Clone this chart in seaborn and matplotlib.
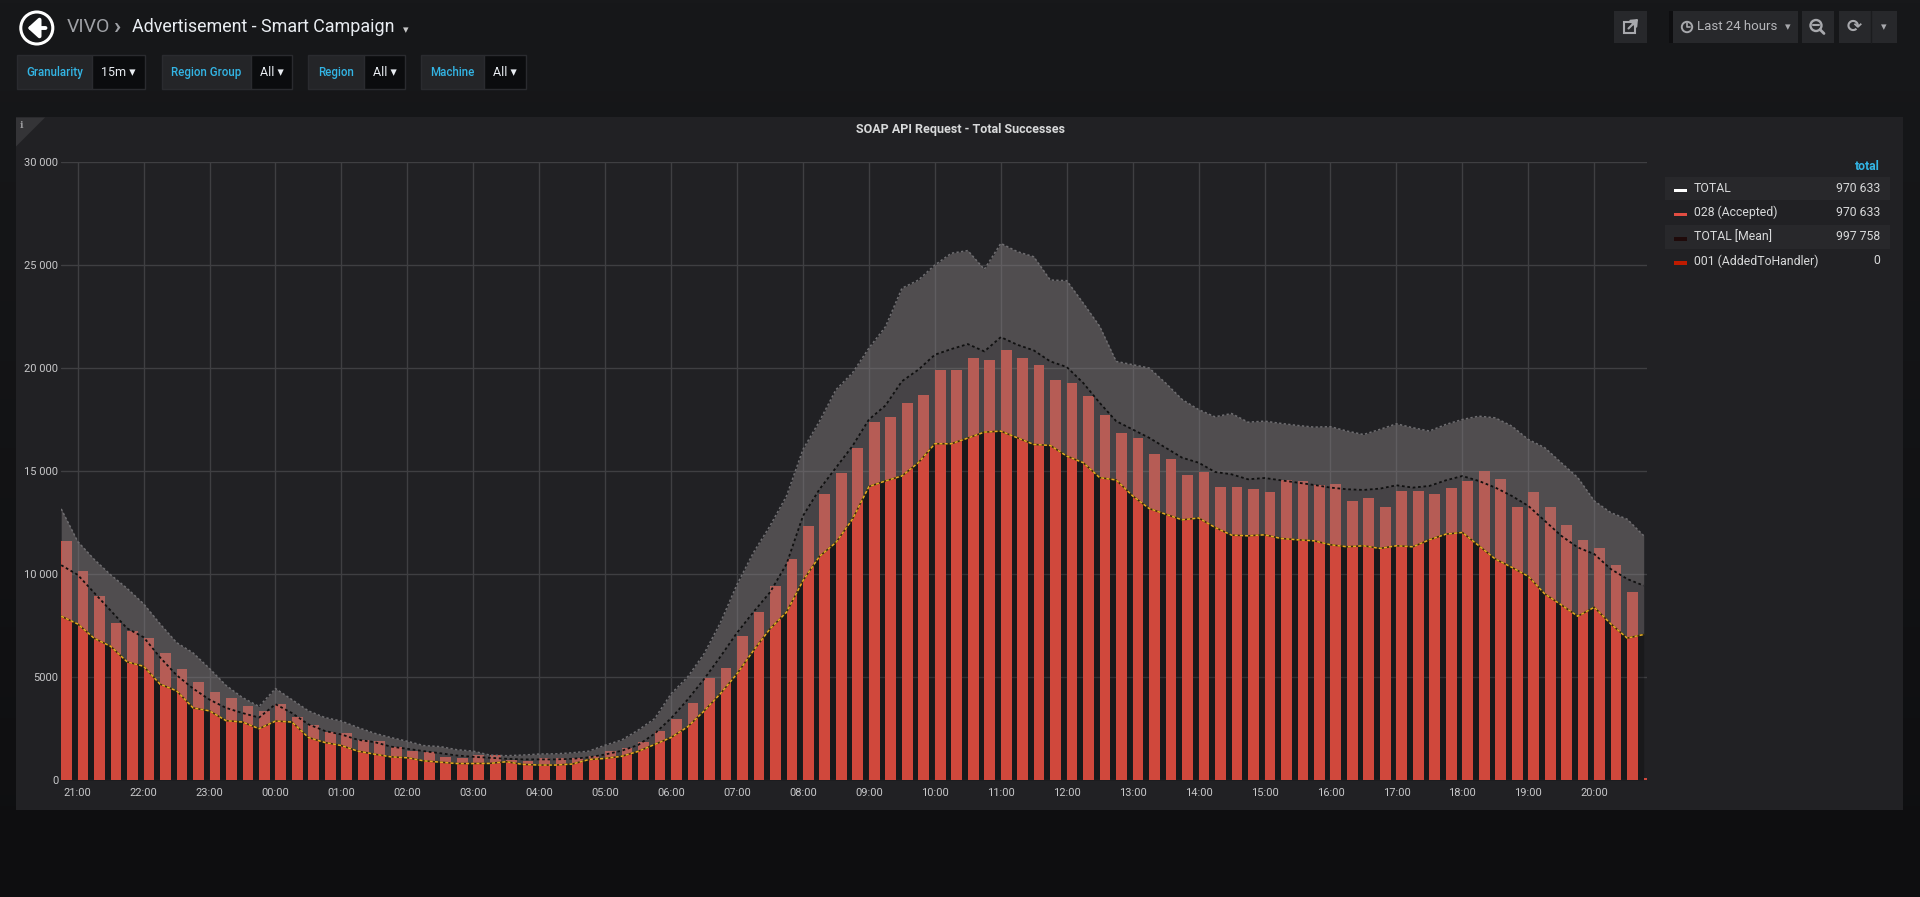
import numpy as np
import pandas as pd
import matplotlib
matplotlib.use("Agg")
import matplotlib.pyplot as plt
import matplotlib.patches as patches
from matplotlib.colors import LinearSegmentedColormap
import seaborn as sns

# 15 minute buckets, 20:45 -> 20:45 next day
slot_times = pd.date_range("2019-05-01 20:45", "2019-05-02 20:45", freq="15min")

hour_labels = ["21:00", "22:00", "23:00", "00:00", "01:00", "02:00", "03:00", "04:00",
               "05:00", "06:00", "07:00", "08:00", "09:00", "10:00", "11:00", "12:00",
               "13:00", "14:00", "15:00", "16:00", "17:00", "18:00", "19:00", "20:00"]
y_ticks = [0, 5000, 10000, 15000, 20000, 25000, 30000]
y_tick_labels = ["0", "5000", "10 000", "15 000", "20 000", "25 000", "30 000"]

# 028 (Accepted) per bucket (bars)
accepted = [11600, 10130, 8920, 7640, 7250, 6900, 6170, 5410, 4780, 4285, 4000, 3570, 3355,
            3680, 3070, 2680, 2340, 2300, 1950, 1880, 1620, 1400, 1340, 1125, 1060,
            1200, 1210, 950, 920, 1050, 1050, 1080, 1160, 1400, 1530, 1855, 2390,
            2970, 3760, 4970, 5460, 6970, 8160, 9440, 10730, 12320, 13900, 14900, 16100,
            17390, 17630, 18280, 18700, 19900, 19910, 20480, 20400, 20890, 20480, 20130, 19400,
            19270, 18630, 17740, 16860, 16580, 15810, 15560, 14810, 14970, 14220, 14230, 14150,
            13970, 14550, 14520, 14320, 14390, 13550, 13680, 13240, 14030, 14030, 13900, 14180,
            14500, 15000, 14600, 13270, 13980, 13230, 12390, 11650, 11270, 10450, 9110, 100]

# TOTAL [Mean] band: lower bound, mean, upper bound
mean_low = [7950, 7575, 6880, 6490, 5735, 5520, 4650, 4330, 3500, 3355, 2880, 2815, 2490,
            2860, 2815, 2060, 1820, 1670, 1400, 1255, 1125, 1080, 930, 865, 800, 800,
            806, 887, 758, 726, 726, 774, 990, 1048, 1150, 1390, 1726, 2065, 2581, 3350,
            4200, 5161,
            6290, 7339, 8146, 9678, 10855, 11533, 12662, 14243, 14517, 14759, 15404, 16324,
            16324, 16600, 16887, 16935, 16612, 16290, 16241, 15725, 15403, 14677, 14564, 13790,
            13177, 12903, 12629, 12720, 12258, 11887, 11855, 11903, 11726, 11661, 11613, 11419,
            11322, 11371, 11242, 11371, 11322, 11661, 11935, 12016, 11371, 10726, 10323, 9887,
            9032, 8500, 7951, 8387, 7580, 6887, 7064]

mean = [10430, 9960, 9090, 8225, 7360, 6930, 5950, 5090, 4440, 3900, 3500, 3250, 3030,
        3680, 3250, 2700, 2380, 2210, 1950, 1840, 1620, 1515, 1400, 1300, 1190, 1125,
        1080, 1030, 1000, 1000, 1000, 1030, 1100, 1240, 1420, 1700, 2250, 3000, 3900, 4900,
        6000, 7150,
        8162, 9113, 10484, 12823, 14114, 15162, 16211, 17501, 18178, 19356, 19920, 20646,
        20920, 21161, 20806, 21500, 21129, 20855, 20322, 20048, 19274, 18306, 17419, 17016,
        16612, 16129, 15645, 15403, 14952, 14839, 14597, 14661, 14548, 14435, 14323, 14194,
        14113, 14081, 14145, 14306, 14194, 14274, 14548, 14758, 14516, 14194, 13790, 13306,
        12581, 11855, 11290, 10968, 10242, 9758, 9436]

mean_high = [13160, 11580, 10710, 9960, 9300, 8550, 7575, 6670, 6170, 5410, 4590, 4000, 3570,
             4440, 3900, 3355, 3030, 2860, 2550, 2270, 2060, 1880, 1670, 1620, 1470, 1400,
             1210, 1180, 1210, 1260, 1270, 1320, 1400, 1690, 1940, 2420, 2980, 4190, 5000, 6130,
             7660, 9500,
             11050, 12340, 13790, 16050, 17420, 18950, 19760, 20970, 22000, 23870, 24270, 25000,
             25570, 25700, 24790, 26050, 25650, 25400, 24270, 24240, 23150, 22020, 20320, 20160,
             20000, 19270, 18470, 17980, 17630, 17790, 17370, 17420, 17310, 17210, 17130, 17150,
             16940, 16770, 17020, 17290, 17100, 16940, 17260, 17500, 17660, 17580, 17180, 16530,
             16130, 15400, 14680, 13550, 12980, 12660, 11860]

legend_names = ["TOTAL", "028 (Accepted)", "TOTAL [Mean]", "001 (AddedToHandler)"]
legend_totals = ["970 633", "970 633", "997 758", "0"]
legend_colors = ["#ffffff", "#e24d42", "#1f0a0a", "#bf1b00"]

var_names = ["Granularity", "Region Group", "Region", "Machine"]
var_values = ["15m", "All", "All", "All"]

# hours relative to 21:00
hours = ((slot_times - slot_times[1]).total_seconds() / 3600).to_numpy()
bar_frac = 0.65
bar_centers = hours + bar_frac * 0.25 / 2

sns.set_theme(style="dark")
plt.rcParams["font.family"] = ["Roboto", "DejaVu Sans"]
plt.rcParams["patch.force_edgecolor"] = False

W, H = 1920, 897
fig = plt.figure(figsize=(W / 100, H / 100), dpi=100)
fig.patch.set_facecolor("#161719")

# page chrome drawn in pixel coordinates
bg = fig.add_axes([0, 0, 1, 1])
bg.set_zorder(0)
grad = np.linspace(0, 1, 256).reshape(-1, 1)
bg.imshow(grad, extent=(0, W, H, 0), aspect="auto", zorder=0,
          cmap=LinearSegmentedColormap.from_list("page", ["#17181a", "#0e0e10"]))
bg.set_xlim(0, W)
bg.set_ylim(H, 0)
bg.axis("off")


def box(x, y, w, h, fc, z=2):
    bg.add_patch(patches.Rectangle((x, y), w, h, fc=fc, ec="none", lw=0, zorder=z))


# header
bg.add_patch(patches.Circle((36.8, 28), 16, fill=False, ec="white", lw=2.2, zorder=2))
bg.annotate("", xy=(27.5, 28), xytext=(45.5, 28),
            arrowprops=dict(arrowstyle="-|>,head_length=0.55,head_width=0.5",
                            color="white", lw=2.8, shrinkA=0, shrinkB=0), zorder=3)
bg.text(67, 27, "VIVO", fontsize=14, color="#9fa1a6", va="center", ha="left")
bg.text(113, 26, "›", fontsize=17, color="#9fa1a6", va="center", ha="left", weight="bold")
bg.text(132, 27, "Advertisement - Smart Campaign", fontsize=12.9, color="#e9edf2",
        va="center", ha="left")
bg.text(403, 30, "▾", fontsize=8, color="#c8c8c8", va="center", ha="left")

# template variables
var_boxes = [(16.5, 92.4, 145), (161.6, 251.3, 292.4), (308, 363.8, 405), (421, 484.4, 526)]
for (x0, x1, x2), name, val in zip(var_boxes, var_names, var_values):
    bg.add_patch(patches.Rectangle((x0, 55.5), x1 - x0, 34, fc="#242528", ec="#2a2b2f",
                                   lw=1, zorder=2))
    bg.add_patch(patches.Rectangle((x1, 55.5), x2 - x1, 34, fc="#0b0c0e", ec="#2a2b2f",
                                   lw=1, zorder=2))
    bg.text((x0 + x1) / 2, 72.5, name, fontsize=8.3, color="#33b5e5", weight="medium",
            ha="center", va="center", zorder=3)
    bg.text((x1 + x2) / 2, 72.5, val + " ▾", fontsize=9, color="#e9edf2",
            ha="center", va="center", zorder=3)

# top-right buttons
btn = "#27282b"
icon = "#a8a9ad"
box(1614, 11, 33, 32, btn)
bg.add_patch(patches.Rectangle((1624, 22), 11, 11, fill=False, ec=icon, lw=1.5, zorder=3))
bg.annotate("", xy=(1638, 19), xytext=(1628.5, 28.5),
            arrowprops=dict(arrowstyle="-|>,head_length=0.3,head_width=0.25", color=icon,
                            lw=1.5, shrinkA=0, shrinkB=0), zorder=4)
box(1669, 11, 5, 32, "#0e0e10")
box(1673, 11, 125, 32, btn)
bg.add_patch(patches.Circle((1687, 27), 5.2, fill=False, ec=icon, lw=1.4, zorder=3))
bg.plot([1687, 1687, 1690], [23.5, 27, 27], color=icon, lw=1.2, zorder=3)
bg.text(1697, 27, "Last 24 hours", fontsize=9.5, color="#b5b6ba", va="center", ha="left")
bg.text(1785, 27, "▾", fontsize=8, color=icon, va="center", ha="left")
box(1802, 11, 32, 32, btn)
bg.add_patch(patches.Circle((1816, 25.5), 5.5, fill=False, ec=icon, lw=1.7, zorder=3))
bg.plot([1813, 1819], [25.5, 25.5], color=icon, lw=1.5, zorder=3)
bg.plot([1820, 1824], [29.5, 33.5], color=icon, lw=2, zorder=3)
box(1839, 11, 58, 32, btn)
bg.plot([1870.5, 1870.5], [11, 43], color="#1b1c1e", lw=1, zorder=3)
bg.text(1854.5, 27, "⟳", fontsize=13, color=icon, va="center", ha="center",
        family="DejaVu Sans", weight="bold")
bg.text(1884, 27, "▾", fontsize=8, color=icon, va="center", ha="center")

# panel
box(16, 117.5, 1887, 693, "#212124", z=1)
bg.add_patch(patches.Polygon([(16, 117.5), (45, 117.5), (16, 146.5)], closed=True,
                             fc="#343437", ec="none", lw=0, zorder=2))
bg.text(22, 125, "i", fontsize=7, color="#9a9a9d", va="center", ha="center",
        family="DejaVu Serif", weight="bold")
bg.text(960, 130, "SOAP API Request - Total Successes", fontsize=9, weight="bold",
        color="#d8d9da", ha="center", va="center")

# legend table
bg.text(1880, 166, "total", fontsize=8.8, weight="bold", color="#33b5e5",
        ha="right", va="center")
row_y = [188.5, 212.5, 237, 261]
for i, (name, tot, col) in enumerate(zip(legend_names, legend_totals, legend_colors)):
    y = row_y[i]
    if i % 2 == 0:
        box(1665, y - 11.5, 225, 23.5, "#28282b")
    box(1674, y + 0.2, 12.5, 3.5, col, z=3)
    bg.text(1693.5, y, name, fontsize=8.8, color="#d8d9da", ha="left", va="center", zorder=4)
    bg.text(1880, y, tot, fontsize=8.8, color="#d8d9da", ha="right", va="center", zorder=4)

# main graph area
ax = fig.add_axes([61 / W, 1 - 780 / H, 1586 / W, 618 / H])
ax.set_zorder(2)
ax.set_facecolor("none")

ax.fill_between(hours, 0, mean_low, color="black", alpha=0.24, lw=0, zorder=1)
sns.barplot(x=bar_centers, y=accepted, native_scale=True, width=bar_frac, color="#d0483c",
            saturation=1, errorbar=None, linewidth=0, ax=ax, zorder=2)
ax.fill_between(hours, mean_low, mean, color="#888284", alpha=0.36, lw=0, zorder=3)
ax.fill_between(hours, mean, mean_high, color="#888284", alpha=0.46, lw=0, zorder=3)

sns.lineplot(x=hours, y=mean_high, color="#6f6e71", lw=1.1, linestyle=(0, (1.5, 1.5)),
             errorbar=None, legend=False, ax=ax, zorder=4)
sns.lineplot(x=hours, y=mean, color="#101010", lw=1.3, linestyle=(0, (1.5, 1.5)),
             errorbar=None, legend=False, ax=ax, zorder=4)
sns.lineplot(x=hours, y=mean_low, color="#3a2e08", lw=1.1, errorbar=None, legend=False,
             ax=ax, zorder=4)
sns.lineplot(x=hours, y=mean_low, color="#e3ab22", lw=1.1, linestyle=(0, (2, 1.4)),
             errorbar=None, legend=False, ax=ax, zorder=5)

ax.set_xlim(-0.253, 23.80)
ax.set_ylim(0, 30000)
ax.set_xticks(range(len(hour_labels)))
ax.set_xticklabels(hour_labels)
ax.set_yticks(y_ticks)
ax.set_yticklabels(y_tick_labels)
ax.set_xlabel("")
ax.set_ylabel("")
ax.grid(True, color="#3f3f42", lw=1)
ax.set_axisbelow(True)
for s in ax.spines.values():
    s.set_visible(False)
ax.tick_params(axis="both", length=0, colors="#c8c8ca", labelsize=8)
ax.tick_params(axis="y", pad=2)
ax.tick_params(axis="x", pad=6)

fig.savefig("out.png", dpi=100, facecolor=fig.get_facecolor())
